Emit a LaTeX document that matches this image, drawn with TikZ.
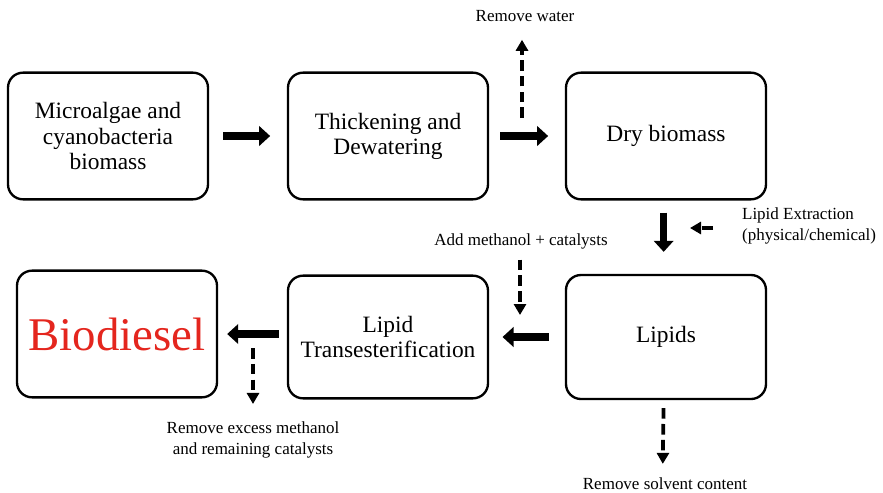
\documentclass[tikz,border=0pt]{standalone}
\usepackage{fontspec}
\setmainfont{Liberation Serif}
\usetikzlibrary{arrows.meta}
\definecolor{bioRed}{RGB}{228,38,30}
\tikzset{
  stepbox/.style={draw, line width=2pt, rounded corners=0.45cm, minimum width=6cm, minimum height=3.8cm, align=center, font=\fontsize{20}{21.5}\selectfont},
  fat/.style={line width=6pt, -{Triangle[length=0.33cm, width=0.58cm]}},
  side/.style={line width=3.2pt, dash pattern=on 9pt off 4.5pt, -{Triangle[length=0.33cm, width=0.36cm]}},
  note/.style={align=center, font=\fontsize{14.5}{18.5}\selectfont}
}
\begin{document}
\begin{tikzpicture}[x=0.03cm, y=-0.03cm, line join=round]
	\useasboundingbox (0,0) rectangle (883,492);
	% Boxes
	\node[stepbox] (algae) at (108,136) {Microalgae and\\cyanobacteria\\biomass};
	\node[stepbox] (thick) at (388,136) {Thickening and\\Dewatering};
	\node[stepbox] (dry) at (666,136) {Dry biomass};
	\node[stepbox, minimum height=3.72cm] (lipids) at (666,337) {Lipids};
	\node[stepbox, minimum height=3.68cm] (trans) at (388,337) {Lipid\\Transesterification};
	\node[stepbox, font=\fontsize{40}{44}\selectfont, text=bioRed] (bio) at (117,334) {Biodiesel};
	% Side notes
	\node[note] (water) at (525,16) {Remove water};
	\node[note, anchor=west, align=left] (extract) at (738,226) {Lipid Extraction\\(physical/chemical)};
	\node[note] (meth) at (521,241) {Add methanol + catalysts};
	\node[note] (excess) at (253,440) {Remove excess methanol\\and remaining catalysts};
	\node[note] (solvent) at (665,484) {Remove solvent content};
	\coordinate (w0) at (522,118);
	\coordinate (e0) at (690,228);
	\coordinate (m0) at (520,315);
	\coordinate (x0) at (253,348);
	% Main flow
	\draw[fat, shorten <=0.42cm, shorten >=0.5cm] (algae.east) -- (thick.west);
	\draw[fat, shorten <=0.33cm, shorten >=0.5cm] (thick.east) -- (dry.west);
	\draw[fat, shorten <=0.36cm, shorten >=0.66cm] ([xshift=-2pt]dry.south) -- ([xshift=-2pt]lipids.north);
	\draw[fat, shorten <=0.48cm, shorten >=0.4cm] (lipids.west) -- (trans.east);
	\draw[fat, shorten <=0.24cm, shorten >=0.27cm] (trans.west |- bio.east) -- (bio.east);
	% Dashed side arrows
	\draw[side, shorten >=0.42cm] (w0) -- (w0 |- water.south);
	\draw[side, shorten <=0.75cm] (extract.west |- e0) -- (e0);
	\draw[side, shorten <=0.2cm] (meth.south -| m0) -- (m0);
	\draw[side, shorten >=0.4cm] (x0) -- (x0 |- excess.north);
	\draw[side, shorten <=0.24cm, shorten >=0.3cm] ([xshift=-2pt]lipids.south) -- ([xshift=-2pt]solvent.north);
\end{tikzpicture}
\end{document}
